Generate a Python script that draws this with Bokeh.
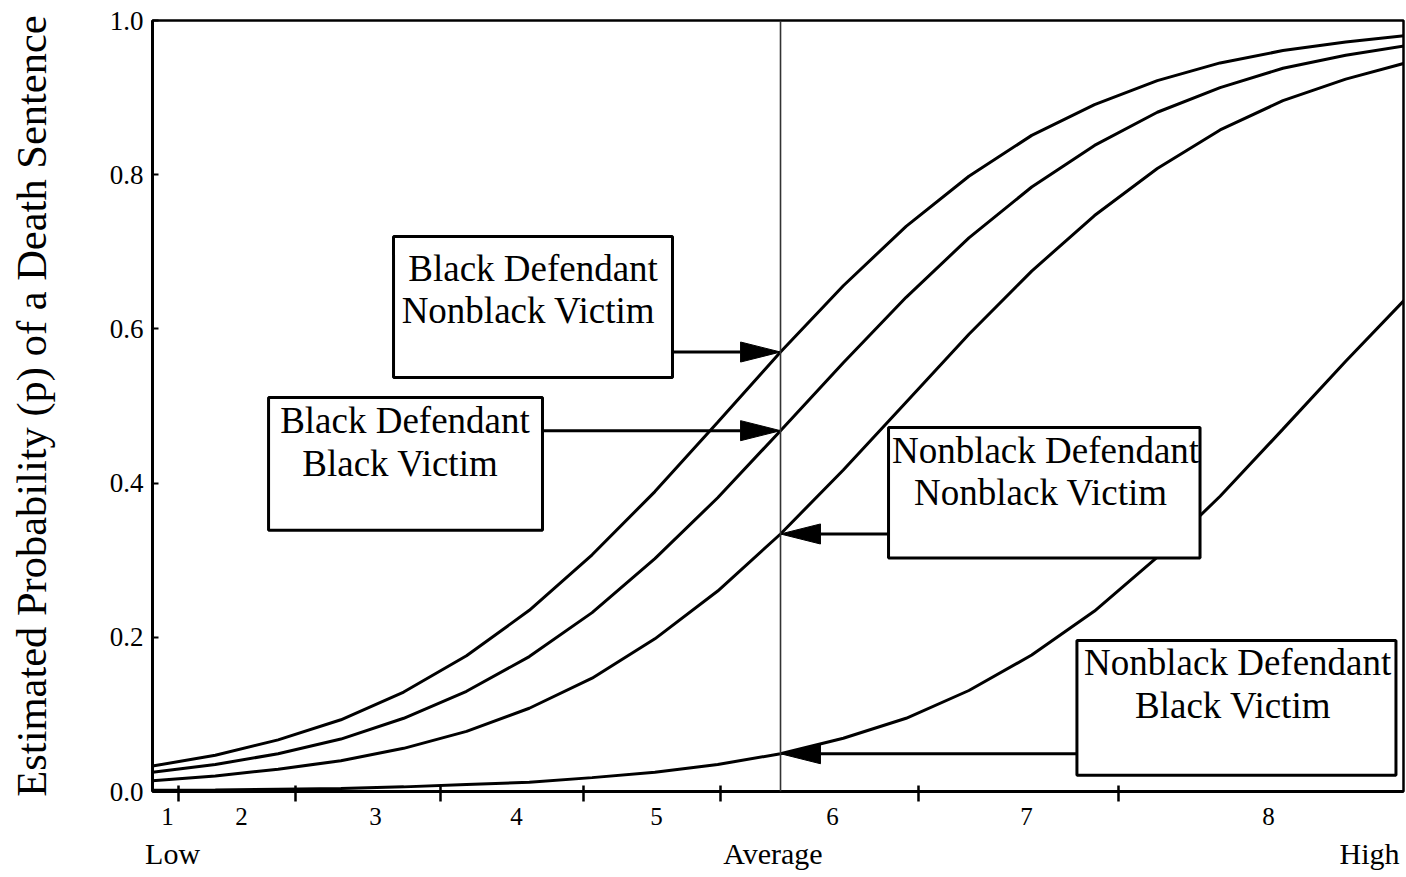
from bokeh.plotting import figure
from bokeh.models import Range1d, FixedTicker, LinearAxis, BoxAnnotation, Label, Span
from bokeh.embed import file_html
from bokeh.resources import INLINE

# ---------------- data ----------------
aggravation = [0, 5, 10, 15, 20, 25, 30, 35, 40, 45, 50, 55, 60, 65, 70, 75, 80, 85, 90, 95, 100]

black_def_nonblack_vic = [0.033, 0.047, 0.067, 0.093, 0.129, 0.176, 0.235, 0.307, 0.389, 0.479, 0.570,
                          0.656, 0.733, 0.798, 0.851, 0.891, 0.922, 0.945, 0.961, 0.972, 0.981]
black_def_black_vic = [0.025, 0.035, 0.049, 0.068, 0.095, 0.130, 0.175, 0.232, 0.302, 0.381, 0.468,
                       0.556, 0.641, 0.718, 0.784, 0.838, 0.881, 0.913, 0.938, 0.955, 0.968]
nonblack_def_nonblack_vic = [0.014, 0.020, 0.029, 0.040, 0.056, 0.078, 0.108, 0.147, 0.198, 0.260, 0.334,
                             0.417, 0.505, 0.593, 0.675, 0.747, 0.808, 0.858, 0.896, 0.924, 0.946]
nonblack_def_black_vic = [0.0015, 0.002, 0.003, 0.004, 0.006, 0.009, 0.012, 0.018, 0.025, 0.035, 0.049,
                          0.069, 0.095, 0.131, 0.177, 0.234, 0.304, 0.383, 0.470, 0.558, 0.643]

average_level = 50

level_labels = ["1", "2", "3", "4", "5", "6", "7", "8"]
level_label_pos = [1.19, 7.09, 17.75, 28.98, 40.13, 54.14, 69.59, 88.85]
level_boundaries = [2.07, 11.39, 22.93, 34.32, 45.22, 60.99, 76.91]

scale_words = ["Low", "Average", "High"]
scale_word_pos = [1.6, 49.4, 96.9]

y_ticks = [0.0, 0.2, 0.4, 0.6, 0.8, 1.0]
y_title = "Estimated Probability (p) of a Death Sentence"

series = [
    ("Black Defendant", "Nonblack  Victim", black_def_nonblack_vic),
    ("Black Defendant", "Black  Victim", black_def_black_vic),
    ("Nonblack Defendant", "Nonblack  Victim", nonblack_def_nonblack_vic),
    ("Nonblack Defendant", "Black  Victim", nonblack_def_black_vic),
]

# ---------------- layout of the callout boxes (positions only) ----------------
# (left, right, bottom, top, text_x, line1_y, line2_y, arrow_from_x)
boxes = [
    (19.19, 41.40, 0.537, 0.720, 30.3, 0.678, 0.624, 41.40),
    (9.24, 31.05, 0.339, 0.511, 20.1, 0.481, 0.425, 31.05),
    (58.60, 83.40, 0.303, 0.472, 71.1, 0.442, 0.388, 58.60),
    (73.60, 99.00, 0.021, 0.196, 86.4, 0.167, 0.112, 73.60),
]
HEAD_LEN = 3.18
HEAD_HALF = 0.013

FONT = "Liberation Serif"

p = figure(width=1405, height=877, output_backend="svg", toolbar_location=None,
           x_range=Range1d(0, 99.6), y_range=Range1d(0, 1.0),
           min_border_left=152, min_border_right=2, min_border_top=20, min_border_bottom=86)
p.background_fill_color = "white"
p.border_fill_color = "white"
p.outline_line_color = "black"
p.outline_line_width = 2.5
p.xgrid.visible = False
p.ygrid.visible = False

# curves
for _, _, vals in series:
    p.line(aggravation, vals, line_color="black", line_width=3)

# vertical reference line at the average level
p.add_layout(Span(location=average_level, dimension="height", line_color="#333333", line_width=1.6))

# arrows (drawn as glyphs, boxes above them)
idx = aggravation.index(average_level)
for (l, r, b, t, tx, y1, y2, ax), (_, _, vals) in zip(boxes, series):
    v = vals[idx]
    direction = 1 if ax < average_level else -1
    base_x = average_level - direction * HEAD_LEN
    p.segment(x0=[ax], y0=[v], x1=[base_x], y1=[v], line_color="black", line_width=3)
    p.patch([average_level, base_x, base_x], [v, v + HEAD_HALF, v - HEAD_HALF],
            fill_color="black", line_color="black", line_width=1)

# boxes and their texts
for (l, r, b, t, tx, y1, y2, ax) in boxes:
    p.add_layout(BoxAnnotation(left=l, right=r, bottom=b, top=t, fill_color="white", fill_alpha=1.0,
                               line_color="black", line_width=3, line_alpha=1.0))
for (l, r, b, t, tx, y1, y2, ax), (line1, line2, _) in zip(boxes, series):
    for ty, txt in ((y1, line1), (y2, line2)):
        p.add_layout(Label(x=tx, y=ty, text=txt, text_font=FONT, text_font_size="37px",
                           text_color="black", text_align="center", text_baseline="middle"))

# y axis
ya = p.yaxis[0]
ya.ticker = FixedTicker(ticks=y_ticks)
ya.major_label_overrides = {t: f"{t:.1f}" for t in y_ticks}
ya.major_tick_in = 6
ya.major_tick_out = 0
ya.minor_tick_line_color = None
ya.axis_line_width = 3
ya.major_tick_line_width = 2
ya.major_label_text_font = FONT
ya.major_label_text_font_size = "27px"
ya.major_label_text_color = "black"
ya.major_label_standoff = 9
ya.axis_label = y_title
ya.axis_label_text_font = FONT
ya.axis_label_text_font_style = "normal"
ya.axis_label_text_font_size = "42.5px"
ya.axis_label_text_color = "black"
ya.axis_label_standoff = 52

# x axis: labels 1..8 with tick marks at the level boundaries
xa = p.xaxis[0]
xa.ticker = FixedTicker(ticks=level_label_pos, minor_ticks=level_boundaries)
xa.major_label_overrides = {pos: lab for pos, lab in zip(level_label_pos, level_labels)}
xa.major_tick_line_color = None
xa.major_tick_in = 6
xa.major_tick_out = 10
xa.minor_tick_line_color = "black"
xa.minor_tick_line_width = 2.5
xa.minor_tick_in = 6
xa.minor_tick_out = 10
xa.axis_line_width = 3
xa.major_label_text_font = FONT
xa.major_label_text_font_size = "25px"
xa.major_label_text_color = "black"
xa.major_label_standoff = 6

# second axis: Low / Average / High
xb = LinearAxis(ticker=FixedTicker(ticks=scale_word_pos, minor_ticks=[]),
                major_label_overrides={pos: w for pos, w in zip(scale_word_pos, scale_words)})
xb.axis_line_color = None
xb.major_tick_line_color = None
xb.minor_tick_line_color = None
xb.major_tick_in = 0
xb.major_tick_out = 0
xb.major_label_text_font = FONT
xb.major_label_text_font_size = "30px"
xb.major_label_text_color = "black"
xb.major_label_standoff = 9
p.add_layout(xb, "below")

open("out.html", "w").write(file_html(p, INLINE))
